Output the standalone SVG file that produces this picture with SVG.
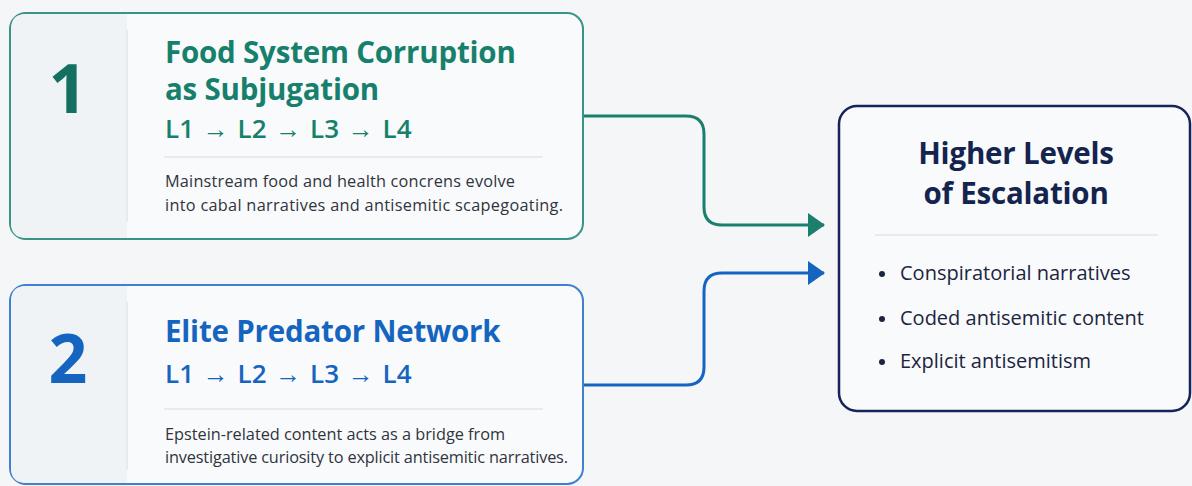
<svg xmlns="http://www.w3.org/2000/svg" width="1192" height="486" viewBox="0 0 1192 486">
  <style>
    text { font-family: "Open Sans", "Noto Sans", "Liberation Sans", sans-serif; }
    .card { fill: #f9fafb; stroke-width: 2; }
    .strip { fill: #eff3f5; }
    .sep { stroke: #e1e6ea; stroke-width: 1.5; }
    .num { font-size: 68px; font-weight: 700; text-anchor: middle; }
    .title { font-size: 29.5px; font-weight: 700; letter-spacing: -0.2px; }
    .levels { font-size: 26px; font-weight: 600; word-spacing: 2px; }
    .body { font-size: 16.3px; fill: #2f3440; }
    .bullet { font-size: 20px; fill: #1c2540; }
    .conn { fill: none; stroke-width: 3; stroke-linejoin: round; }
  </style>
  <defs>
    <marker id="arrTeal" markerWidth="18" markerHeight="24" refX="16" refY="12" orient="auto" markerUnits="userSpaceOnUse">
      <path d="M0,0 L17,12 L0,24 Z" fill="#1b7f6d"/>
    </marker>
    <marker id="arrBlue" markerWidth="18" markerHeight="24" refX="16" refY="12" orient="auto" markerUnits="userSpaceOnUse">
      <path d="M0,0 L17,12 L0,24 Z" fill="#1565c0"/>
    </marker>
  </defs>
  <rect width="1192" height="486" fill="#f5f6f8"/>

  <g id="connectors">
    <path class="conn" stroke="#1b7f6d" d="M583,116 H686 Q704,116 704,134 V207 Q704,225 722,225 H824" marker-end="url(#arrTeal)"/>
    <path class="conn" stroke="#1565c0" d="M583,385 H686 Q704,385 704,367 V291 Q704,273 722,273 H824" marker-end="url(#arrBlue)"/>
  </g>

  <g id="node1">
    <rect class="card" x="10" y="13" width="573" height="226" rx="16" stroke="#3a9484"/>
    <path class="strip" d="M26,14 H127 V238 H26 Q11,238 11,223 V29 Q11,14 26,14 Z"/>
    <line class="sep" x1="127" y1="30" x2="127" y2="222"/>
    <text class="num" x="68" y="113" fill="#136f60">1</text>
    <text class="title" x="165" y="63" fill="#17806c">Food System Corruption</text>
    <text class="title" x="165" y="100" fill="#17806c">as Subjugation</text>
    <text class="levels" x="165" y="138" fill="#17806c">L1 → L2 → L3 → L4</text>
    <line class="sep" x1="164" y1="157" x2="543" y2="157"/>
    <text class="body" x="165" y="187" textLength="350" lengthAdjust="spacing">Mainstream food and health concrens evolve</text>
    <text class="body" x="165" y="211" textLength="398" lengthAdjust="spacing">into cabal narratives and antisemitic scapegoating.</text>
  </g>

  <g id="node2">
    <rect class="card" x="10" y="285" width="573" height="199" rx="16" stroke="#3f80d0"/>
    <path class="strip" d="M26,286 H127 V483 H26 Q11,483 11,468 V301 Q11,286 26,286 Z"/>
    <line class="sep" x1="127" y1="302" x2="127" y2="470"/>
    <text class="num" x="68" y="383" fill="#1565c0">2</text>
    <text class="title" x="165" y="342" fill="#1565c0">Elite Predator Network</text>
    <text class="levels" x="165" y="383" fill="#1565c0">L1 → L2 → L3 → L4</text>
    <line class="sep" x1="164" y1="409" x2="543" y2="409"/>
    <text class="body" x="165" y="440" textLength="340" lengthAdjust="spacing">Epstein-related content acts as a bridge from</text>
    <text class="body" x="165" y="463" textLength="403" lengthAdjust="spacing">investigative curiosity to explicit antisemitic narratives.</text>
  </g>

  <g id="node3">
    <rect x="839" y="106" width="351" height="305" rx="18" fill="#f9fafb" stroke="#16245a" stroke-width="2.5"/>
    <text class="title" x="1016" y="164" text-anchor="middle" fill="#14244f">Higher Levels</text>
    <text class="title" x="1016" y="204" text-anchor="middle" fill="#14244f">of Escalation</text>
    <line x1="875" y1="235" x2="1158" y2="235" stroke="#dde6ef" stroke-width="1.5"/>
    <circle cx="882" cy="274" r="3" fill="#1c2540"/>
    <text class="bullet" x="900" y="280">Conspiratorial narratives</text>
    <circle cx="882" cy="319" r="3" fill="#1c2540"/>
    <text class="bullet" x="900" y="325">Coded antisemitic content</text>
    <circle cx="882" cy="362" r="3" fill="#1c2540"/>
    <text class="bullet" x="900" y="368">Explicit antisemitism</text>
  </g>
</svg>
